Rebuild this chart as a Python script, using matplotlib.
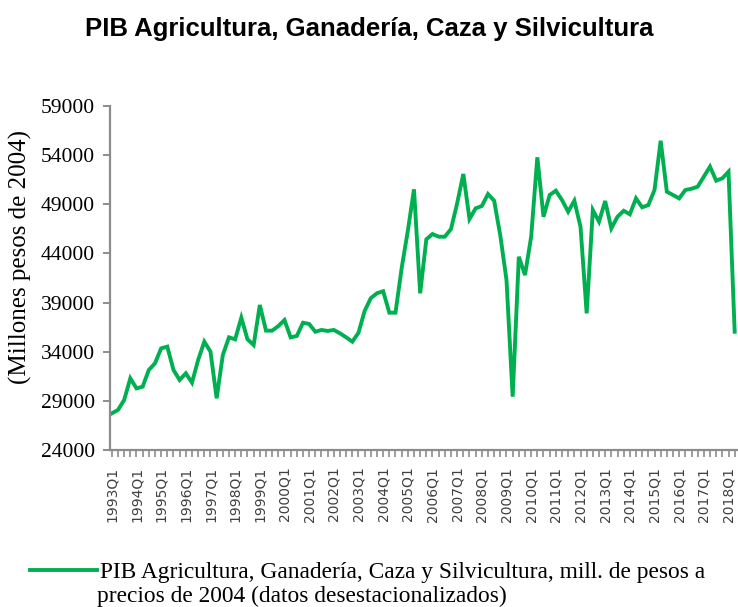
import numpy as np
import matplotlib
matplotlib.use("Agg")
import matplotlib.pyplot as plt

# quarterly series, 1993Q1 .. 2018Q2 (millones de pesos de 2004, desestacionalizado)
years = list(range(1993, 2019))
quarters = [f"{y}Q{q}" for y in years for q in range(1, 5)][:102]
pib_agro = [
    27730, 28070, 29090, 31290, 30270, 30440, 32140, 32820,   # 1993-1994
    34340, 34510, 32140, 31120, 31800, 30850, 33160, 35020,   # 1995-1996
    34000, 29260, 33660, 35460, 35260, 37460, 35260, 34680,   # 1997-1998
    38750, 36140, 36140, 36610, 37220, 35450, 35600, 36950,   # 1999-2000
    36820, 36030, 36210, 36110, 36210, 35870, 35460, 35020,   # 2001-2002
    35930, 38150, 39450, 39950, 40150, 37970, 37970, 42500,   # 2003-2004
    46300, 50520, 39940, 45430, 45970, 45700, 45700, 46480,   # 2005-2006
    49100, 52080, 47500, 48590, 48820, 50040, 49360, 45800,   # 2007-2008
    41290, 29420, 43660, 41800, 45700, 53780, 47730, 49940,   # 2009-2010
    50380, 49430, 48240, 49360, 46720, 37900, 48410, 47230,   # 2011-2012
    49330, 46550, 47730, 48340, 47980, 49600, 48690, 48920,   # 2013-2014
    50450, 55460, 50280, 49940, 49600, 50450, 50580, 50790,   # 2015-2016
    51810, 52830, 51400, 51640, 52310, 36030,                 # 2017-2018
]
yticks = [24000, 29000, 34000, 39000, 44000, 49000, 54000, 59000]

title = "PIB Agricultura, Ganadería, Caza y Silvicultura"
ylabel = "(Millones pesos de 2004)"
legend_line1 = "PIB Agricultura, Ganadería, Caza y Silvicultura, mill. de pesos a"
legend_line2 = "precios de 2004 (datos desestacionalizados)"

green = "#00b050"
gray = "#8c8c8c"
serif = ["Liberation Serif", "DejaVu Serif"]

fig = plt.figure(figsize=(7.38, 6.07), dpi=100)
ax = fig.add_axes([0.149, 0.2587, 0.849, 0.5667])

x = np.arange(len(pib_agro))
ax.plot(x, pib_agro, color=green, lw=2.8, solid_joinstyle="miter",
        label=legend_line1)

ax.set_ylim(24000, 59000)
ax.set_yticks(yticks)
ax.set_yticklabels([str(v) for v in yticks], fontfamily=serif, fontsize=15.5)
ax.set_xlim(-0.3, 101.3)
ax.set_xticks(x[::4])
ax.set_xticklabels(quarters[::4], rotation=90, fontsize=10,
                   fontfamily="DejaVu Sans", color="#404040")
ax.set_xticks(x, minor=True)

for s in ["top", "right"]:
    ax.spines[s].set_visible(False)
for s in ["left", "bottom"]:
    ax.spines[s].set_color(gray)
    ax.spines[s].set_linewidth(1.6)

ax.tick_params(axis="y", direction="out", length=5, width=1.4, color=gray, pad=6)
ax.tick_params(axis="x", which="both", direction="out", length=5, width=1.2,
               color=gray, pad=7)

ax.set_ylabel(ylabel, fontfamily=serif, fontsize=18)
ax.yaxis.set_label_coords(-0.124, 0.56)

fig.text(0.5, 0.953, title, ha="center", va="center", fontsize=18.5,
         fontweight="bold", fontfamily="Liberation Sans")

leg = ax.legend(loc="upper left", bbox_to_anchor=(0.04, 0.074),
                bbox_transform=fig.transFigure, frameon=False,
                prop={"family": serif, "size": 16.8},
                handlelength=2.9, handletextpad=0.1, borderpad=0,
                borderaxespad=0)
fig.text(0.1315, 0.008, legend_line2, fontfamily=serif, fontsize=16.8,
         ha="left", va="baseline")

fig.savefig("out.png", dpi=100)
